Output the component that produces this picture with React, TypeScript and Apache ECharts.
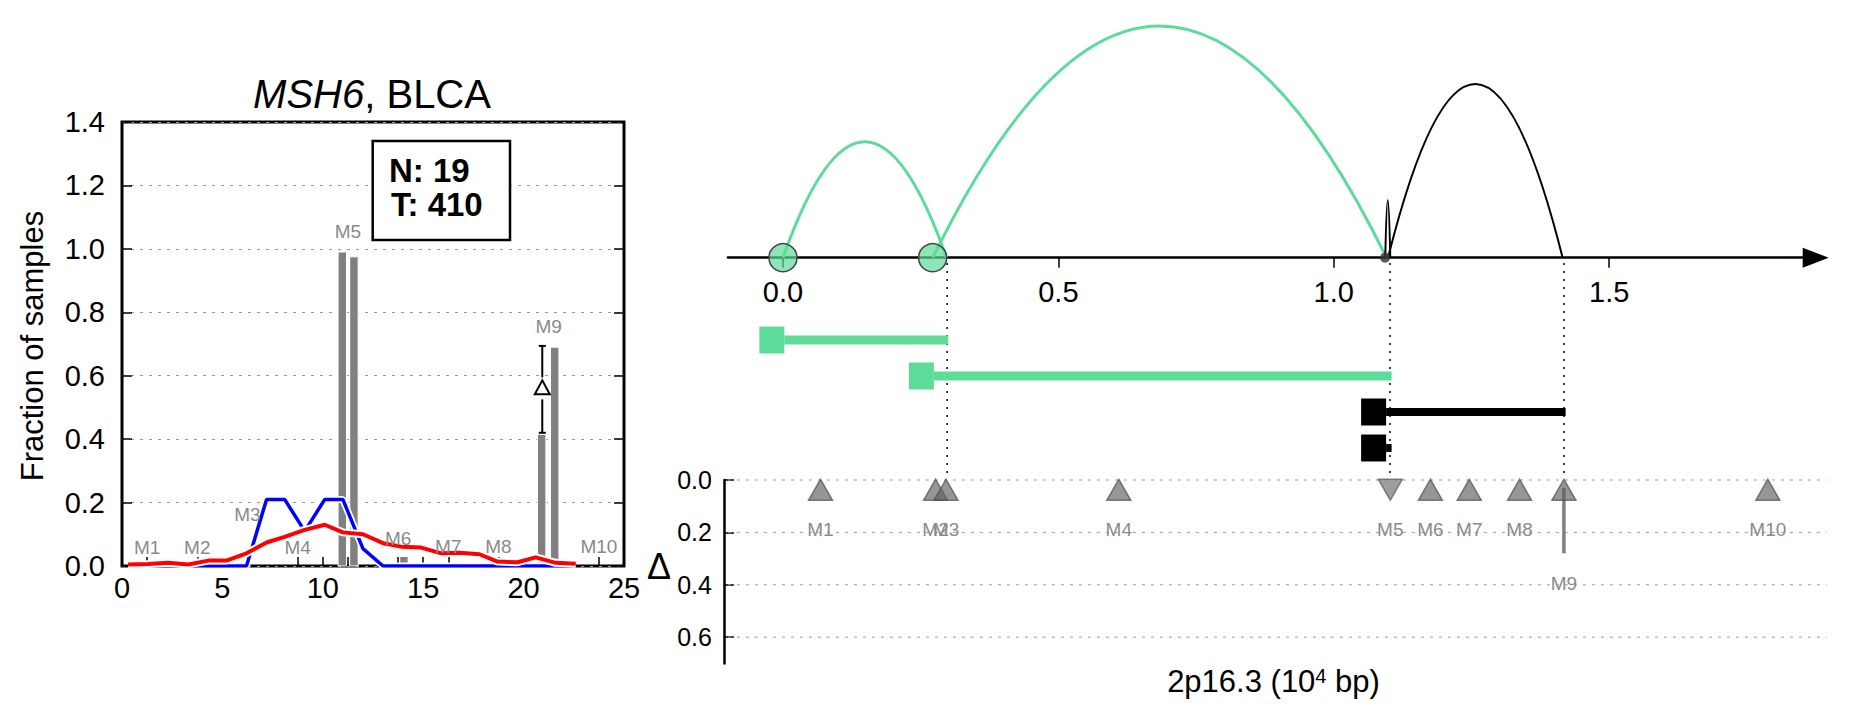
import React, { useEffect, useRef } from "react";
import * as echarts from "echarts";

const FONT = '"Liberation Sans", Arial, Helvetica, sans-serif';
const GREEN = "#5cdb99";
const GREY_TXT = "#8a8a8a";

// ---------------- Left panel data ----------------
const leftXTicks = [0, 5, 10, 15, 20, 25];
const motifNames = ["M1", "M2", "M3", "M4", "M5", "M6", "M7", "M8", "M9", "M10"];
const motifPosLeft = [1.25, 3.75, 6.25, 8.75, 11.25, 13.75, 16.25, 18.75, 21.25, 23.75];
const motifLabelYLeft = [0.057, 0.057, 0.161, 0.057, 1.054, 0.088, 0.061, 0.061, 0.755, 0.061];
const barX = [10.97, 11.55, 14.04, 20.9, 21.55];
const barH = [0.99, 0.975, 0.03, 0.415, 0.69];
const lineX = [0.3, 1.3, 2.3, 3.3, 4.3, 5.2, 6.2, 7.2, 8.1, 9.1, 10.1, 11.0, 12.0, 13.0, 13.9, 14.9, 15.9, 16.8, 17.8, 18.7, 19.7, 20.6, 21.6, 22.6];
const redY = [0.005, 0.006, 0.01, 0.005, 0.017, 0.017, 0.04, 0.074, 0.092, 0.114, 0.13, 0.106, 0.1, 0.072, 0.061, 0.058, 0.04, 0.042, 0.037, 0.014, 0.012, 0.027, 0.01, 0.007];
const blueY = [0, 0, 0, 0, 0, 0, 0, 0.21, 0.21, 0.11, 0.21, 0.21, 0.055, 0, 0, 0, 0, 0, 0, 0, 0, 0, 0, 0];
const errX = [20.93];
const errLow = [0.42];
const errHigh = [0.694];

// ---------------- Right panel data ----------------
const rightTicks = [0, 0.5, 1.0, 1.5];
const arcStart = [0.0, 0.272, 1.0985, 1.0935];
const arcEnd = [0.297, 1.0957, 1.4155, 1.1026];
const arcHeight = [0.488, 0.975, 0.731, 0.243];
const arcColor = [GREEN, GREEN, "#000000", "#000000"];
const arcWidth = [3, 3, 2, 2];
const nodeX = [0.0, 0.2717];
const smallNodeX = [1.093];
const spanStart = [0.0025, 0.274, 1.095, 1.095];
const spanEnd = [0.3, 1.105, 1.421, 1.105];
const spanRow = [0.5, 1.5, 2.5, 3.5];
const spanColor = [GREEN, GREEN, "#000000", "#000000"];
const guideX = [0.298, 1.102, 1.418];
const deltaTicks = [0, 0.2, 0.4, 0.6];
const motifPosRight = [0.0681, 0.277, 0.296, 0.6097, 1.1026, 1.1754, 1.246, 1.3373, 1.4178, 1.788];
const motifDir = [1, 1, 1, 1, -1, 1, 1, 1, 1, 1];
const motifDelta = [0, 0, 0, 0, 0, 0, 0, 0, 0.28, 0];
const motifLabelYRight = [0.188, 0.188, 0.188, 0.188, 0.188, 0.188, 0.188, 0.188, 0.394, 0.188];

const fmt1 = (v: number) => Number(v).toFixed(1);

function buildOption(): any {
  const tickStyle = { color: "#000", width: 1.5 };
  return {
    animation: false,
    backgroundColor: "#ffffff",
    grid: [
      { left: 122, top: 122, width: 502, height: 444, show: true, borderColor: "#000", borderWidth: 3, backgroundColor: "rgba(0,0,0,0)" },
      { left: 727.9, top: 20, width: 1087.8, height: 237.7 },
      { left: 727.9, top: 322, width: 1101.6, height: 144 },
      { left: 727.9, top: 263, width: 1101.6, height: 215 },
      { left: 727.9, top: 480, width: 1101.6, height: 183.4 },
    ],
    xAxis: [
      {
        gridIndex: 0, type: "value", min: 0, max: 25, interval: 5,
        axisLine: { show: false, onZero: false },
        axisTick: { show: true, inside: true, length: 9, customValues: [...leftXTicks, ...motifPosLeft], lineStyle: tickStyle },
        axisLabel: { customValues: leftXTicks, fontSize: 29, margin: 7, color: "#000", fontFamily: FONT },
        splitLine: { show: false },
      },
      {
        gridIndex: 1, type: "value", min: -0.1, max: 1.875,
        axisLine: { show: true, onZero: false, symbol: ["none", "triangle"], symbolSize: [20, 26], lineStyle: { color: "#000", width: 2.5 } },
        axisTick: { show: true, customValues: rightTicks, length: 10, lineStyle: tickStyle },
        axisLabel: { customValues: rightTicks, formatter: fmt1, fontSize: 29, margin: 20, color: "#000", fontFamily: FONT },
        splitLine: { show: false },
      },
      { gridIndex: 2, type: "value", min: -0.1, max: 1.9, show: false },
      { gridIndex: 3, type: "value", min: -0.1, max: 1.9, show: false },
      { gridIndex: 4, type: "value", min: -0.1, max: 1.9, show: false },
    ],
    yAxis: [
      {
        gridIndex: 0, type: "value", min: 0, max: 1.4, interval: 0.2,
        axisLine: { show: false, onZero: false },
        axisTick: { show: true, inside: true, length: 10, lineStyle: tickStyle },
        axisLabel: { formatter: fmt1, fontSize: 29, margin: 17, color: "#000", fontFamily: FONT },
        splitLine: { show: true, lineStyle: { type: [3, 6], color: "#9a9a9a", width: 1 } },
      },
      {
        gridIndex: 0, type: "value", min: 0, max: 1.4, interval: 0.2, position: "right",
        axisLine: { show: false, onZero: false },
        axisTick: { show: true, inside: true, length: 10, lineStyle: tickStyle },
        axisLabel: { show: false },
        splitLine: { show: false },
      },
      { gridIndex: 1, type: "value", min: 0, max: 1, show: false },
      { gridIndex: 2, type: "value", min: 0, max: 4, inverse: true, show: false },
      { gridIndex: 3, type: "value", min: 0, max: 1, show: false },
      {
        gridIndex: 4, type: "value", min: 0, max: 0.7, inverse: true, offset: 4,
        axisLine: { show: true, onZero: false, lineStyle: { color: "#000", width: 2.5 } },
        axisTick: { show: true, inside: true, length: 10, customValues: deltaTicks, lineStyle: tickStyle },
        axisLabel: { customValues: deltaTicks, formatter: fmt1, fontSize: 25, margin: 12, color: "#000", fontFamily: FONT },
        splitLine: { show: false },
      },
    ],
    series: [
      // ---- left panel ----
      {
        type: "custom", name: "bars", xAxisIndex: 0, yAxisIndex: 0, z: 2, clip: false,
        data: barX.map((x, i) => [x, barH[i]]),
        renderItem: (params: any, api: any) => {
          const x = api.value(0), h = api.value(1);
          const p0 = api.coord([x - 0.21, h]);
          const p1 = api.coord([x + 0.21, 0]);
          return { type: "rect", shape: { x: p0[0], y: p0[1], width: p1[0] - p0[0], height: p1[1] - p0[1] }, style: { fill: "#808080", stroke: "#ffffff", lineWidth: 1 } };
        },
      },
      { type: "line", name: "blueHalo", xAxisIndex: 0, yAxisIndex: 0, z: 3, symbol: "none", data: lineX.map((x, i) => [x, blueY[i]]), lineStyle: { color: "#ffffff", width: 7 }, silent: true },
      { type: "line", name: "blue", xAxisIndex: 0, yAxisIndex: 0, z: 4, symbol: "none", data: lineX.map((x, i) => [x, blueY[i]]), lineStyle: { color: "#0000ff", width: 3.5 } },
      { type: "line", name: "redHalo", xAxisIndex: 0, yAxisIndex: 0, z: 5, symbol: "none", data: lineX.map((x, i) => [x, redY[i]]), lineStyle: { color: "#ffffff", width: 8 }, silent: true },
      { type: "line", name: "red", xAxisIndex: 0, yAxisIndex: 0, z: 6, symbol: "none", data: lineX.map((x, i) => [x, redY[i]]), lineStyle: { color: "#ff0000", width: 4 } },
      {
        type: "custom", name: "delta", xAxisIndex: 0, yAxisIndex: 0, z: 7, clip: false,
        data: errX.map((x, i) => [x, errLow[i], errHigh[i]]),
        renderItem: (params: any, api: any) => {
          const x = api.value(0);
          const pT = api.coord([x, api.value(2)]);
          const pB = api.coord([x, api.value(1)]);
          const cx = pT[0];
          const mid = (pT[1] + pB[1]) / 2 - 2;
          const st = { stroke: "#000", lineWidth: 2 };
          return {
            type: "group",
            children: [
              { type: "line", shape: { x1: cx, y1: pT[1], x2: cx, y2: mid - 10 }, style: st },
              { type: "line", shape: { x1: cx, y1: mid + 12, x2: cx, y2: pB[1] }, style: st },
              { type: "line", shape: { x1: cx - 3.5, y1: pT[1], x2: cx + 3.5, y2: pT[1] }, style: st },
              { type: "line", shape: { x1: cx - 3.5, y1: pB[1], x2: cx + 3.5, y2: pB[1] }, style: st },
              { type: "polygon", shape: { points: [[cx, mid - 7], [cx - 7.5, mid + 7], [cx + 7.5, mid + 7]] }, style: { fill: "#fff", stroke: "#000", lineWidth: 2 } },
            ],
          };
        },
      },
      {
        type: "custom", name: "motifLabelsLeft", xAxisIndex: 0, yAxisIndex: 0, z: 8, clip: false,
        data: motifPosLeft.map((x, i) => [x, motifLabelYLeft[i]]),
        renderItem: (params: any, api: any) => {
          const p = api.coord([api.value(0), api.value(1)]);
          return { type: "text", x: p[0], y: p[1], style: { text: motifNames[params.dataIndex], fill: GREY_TXT, fontSize: 19, fontFamily: FONT, align: "center", verticalAlign: "middle", textAlign: "center", textVerticalAlign: "middle" } };
        },
      },
      // ---- right panel: arcs ----
      {
        type: "custom", name: "arcs", xAxisIndex: 1, yAxisIndex: 2, z: 3, clip: false,
        data: arcStart.map((s, i) => [s, arcEnd[i], arcHeight[i]]),
        renderItem: (params: any, api: any) => {
          const s = api.value(0), e = api.value(1), h = api.value(2);
          const p0 = api.coord([s, 0]);
          const p1 = api.coord([e, 0]);
          const pc = api.coord([(s + e) / 2, 2 * h]);
          const i = params.dataIndex;
          return { type: "bezierCurve", shape: { x1: p0[0], y1: p0[1], x2: p1[0], y2: p1[1], cpx1: pc[0], cpy1: pc[1] }, style: { stroke: arcColor[i], lineWidth: arcWidth[i], fill: "none" } };
        },
      },
      {
        type: "scatter", name: "nodes", xAxisIndex: 1, yAxisIndex: 2, z: 5, clip: false, symbolSize: 28,
        data: nodeX.map((x) => [x, 0]),
        itemStyle: { color: "rgba(92,219,153,0.7)", borderColor: "#444", borderWidth: 1.5, opacity: 1 },
      },
      {
        type: "scatter", name: "smallNode", xAxisIndex: 1, yAxisIndex: 2, z: 5, clip: false, symbolSize: 10,
        data: smallNodeX.map((x) => [x, 0]),
        itemStyle: { color: "#333333" },
      },
      // ---- right panel: spans ----
      {
        type: "custom", name: "spans", xAxisIndex: 2, yAxisIndex: 3, z: 3, clip: false,
        data: spanStart.map((s, i) => [s, spanEnd[i], spanRow[i]]),
        renderItem: (params: any, api: any) => {
          const pS = api.coord([api.value(0), api.value(2)]);
          const pE = api.coord([api.value(1), api.value(2)]);
          const c = spanColor[params.dataIndex];
          const lh = c === GREEN ? 9 : 8;
          return {
            type: "group",
            children: [
              { type: "rect", shape: { x: pS[0] - 25, y: pS[1] - 13.5, width: 25, height: 27 }, style: { fill: c } },
              { type: "rect", shape: { x: pS[0], y: pS[1] - lh / 2, width: pE[0] - pS[0], height: lh }, style: { fill: c } },
            ],
          };
        },
      },
      {
        type: "custom", name: "guides", xAxisIndex: 3, yAxisIndex: 4, z: 2, clip: false,
        data: guideX.map((x) => [x]),
        renderItem: (params: any, api: any) => {
          const a = api.coord([api.value(0), 1]);
          const b = api.coord([api.value(0), 0]);
          return { type: "line", shape: { x1: a[0], y1: a[1], x2: b[0], y2: b[1] }, style: { stroke: "#000", lineWidth: 1.5, lineDash: [2, 6] } };
        },
      },
      // ---- right panel: delta ----
      {
        type: "custom", name: "deltaGrid", xAxisIndex: 4, yAxisIndex: 5, z: 1, clip: false,
        data: deltaTicks.map((v) => [v]),
        renderItem: (params: any, api: any) => {
          const a = api.coord([-0.1, api.value(0)]);
          const b = api.coord([1.895, api.value(0)]);
          return { type: "line", shape: { x1: a[0], y1: a[1], x2: b[0], y2: b[1] }, style: { stroke: "#9a9a9a", lineWidth: 1, lineDash: [3, 6] } };
        },
      },
      {
        type: "custom", name: "deltaStems", xAxisIndex: 4, yAxisIndex: 5, z: 3, clip: false,
        data: motifPosRight.map((x, i) => [x, motifDelta[i]]),
        renderItem: (params: any, api: any) => {
          if (!(api.value(1) > 0)) return null;
          const a = api.coord([api.value(0), 0.03]);
          const b = api.coord([api.value(0), api.value(1)]);
          return { type: "line", shape: { x1: a[0], y1: a[1], x2: b[0], y2: b[1] }, style: { stroke: "#808080", lineWidth: 3.5 } };
        },
      },
      {
        type: "scatter", name: "motifs", xAxisIndex: 4, yAxisIndex: 5, z: 4, clip: false,
        symbol: "triangle", symbolSize: [24, 21],
        data: motifPosRight.map((x, i) => ({
          value: [x, 0.037],
          symbolRotate: motifDir[i] < 0 ? 180 : 0,
          itemStyle: motifDir[i] < 0
            ? { color: "rgba(112,112,112,0.85)", borderColor: "rgba(90,90,90,0.9)", borderWidth: 1.5 }
            : { color: "rgba(95,95,95,0.82)", borderColor: "rgba(80,80,80,0.9)", borderWidth: 1.5 },
        })),
      },
      {
        type: "custom", name: "motifLabelsRight", xAxisIndex: 4, yAxisIndex: 5, z: 5, clip: false,
        data: motifPosRight.map((x, i) => [x, motifLabelYRight[i]]),
        renderItem: (params: any, api: any) => {
          const p = api.coord([api.value(0), api.value(1)]);
          return { type: "text", x: p[0], y: p[1], style: { text: motifNames[params.dataIndex], fill: GREY_TXT, fontSize: 19, fontFamily: FONT, align: "center", verticalAlign: "middle", textAlign: "center", textVerticalAlign: "middle" } };
        },
      },
    ],
    graphic: [
      {
        type: "text", x: 372, y: 94, z: 100,
        style: {
          text: "{i|MSH6}, BLCA",
          rich: { i: { fontStyle: "italic", fontSize: 40, fontFamily: FONT, fill: "#000", color: "#000" } },
          fontSize: 40, fontFamily: FONT, fill: "#000",
          align: "center", verticalAlign: "middle", textAlign: "center", textVerticalAlign: "middle",
        },
      },
      {
        type: "text", x: 32, y: 346, rotation: Math.PI / 2, z: 100,
        style: { text: "Fraction of samples", fontSize: 31, fontFamily: FONT, fill: "#000", align: "center", verticalAlign: "middle", textAlign: "center", textVerticalAlign: "middle" },
      },
      {
        type: "rect", z: 100,
        shape: { x: 372.7, y: 141, width: 137.3, height: 99 },
        style: { fill: "#ffffff", stroke: "#000", lineWidth: 2.5 },
      },
      {
        type: "text", x: 389, y: 170, z: 101,
        style: { text: "N: 19", fontSize: 33, fontWeight: "bold", fontFamily: FONT, fill: "#000", align: "left", verticalAlign: "middle", textAlign: "left", textVerticalAlign: "middle" },
      },
      {
        type: "text", x: 391, y: 204, z: 101,
        style: { text: "T: 410", fontSize: 33, fontWeight: "bold", fontFamily: FONT, fill: "#000", align: "left", verticalAlign: "middle", textAlign: "left", textVerticalAlign: "middle" },
      },
      {
        type: "text", x: 659, y: 566, z: 100,
        style: { text: "Δ", fontSize: 36, fontFamily: FONT, fill: "#000", align: "center", verticalAlign: "middle", textAlign: "center", textVerticalAlign: "middle" },
      },
      {
        type: "text", x: 1273.5, y: 681, z: 100,
        style: {
          text: "2p16.3 (10{sup|4} bp)",
          rich: { sup: { fontSize: 20, fontFamily: FONT, fill: "#000", color: "#000", verticalAlign: "top" } },
          fontSize: 31, fontFamily: FONT, fill: "#000",
          align: "center", verticalAlign: "middle", textAlign: "center", textVerticalAlign: "middle",
        },
      },
    ],
  };
}

export default function App() {
  const ref = useRef<HTMLDivElement>(null);
  useEffect(() => {
    if (!ref.current) return;
    const chart = echarts.init(ref.current, null, { renderer: "svg" });
    chart.setOption(buildOption());
    return () => chart.dispose();
  }, []);
  return (
    <div
      ref={ref}
      style={{ position: "absolute", left: 0, top: 0, width: "1851px", height: "718px", background: "#fff" }}
    />
  );
}
